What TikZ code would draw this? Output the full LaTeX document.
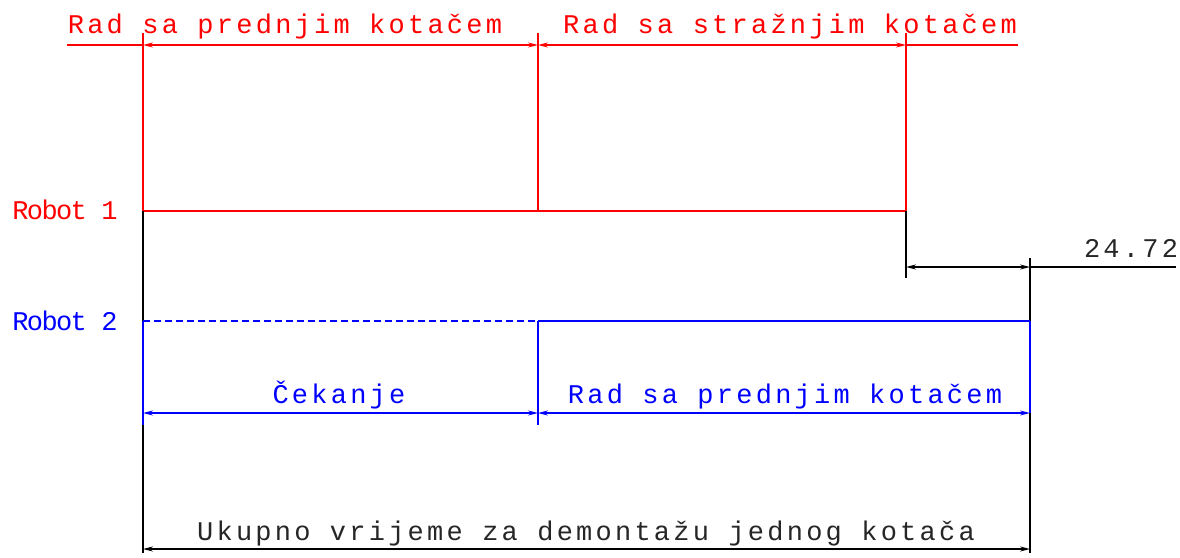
\documentclass[tikz,border=0pt]{standalone}
\usepackage{fontspec}
\usetikzlibrary{arrows.meta}
\newfontfamily\cadfont[LetterSpace=12]{Liberation Mono}
\newfontfamily\cadlabel[LetterSpace=-6]{Liberation Mono}
\definecolor{cadred}{RGB}{255,0,0}
\definecolor{cadblue}{RGB}{0,0,255}
\begin{document}
\begin{tikzpicture}[x=1pt,y=-1pt,
  ln/.style={line width=1.4pt},
  dimtip/.style={ln,{Stealth[length=10pt,width=5pt]}-{Stealth[length=10pt,width=5pt]}},
  lbl/.style={inner sep=0pt,anchor=base,font=\cadfont\fontsize{27}{27}\selectfont},
  rlbl/.style={inner sep=0pt,anchor=base,font=\cadlabel\fontsize{27}{27}\selectfont}]
\useasboundingbox (0,0) rectangle (1180,557);
% coordinates
\coordinate (tl) at (67,45);
\coordinate (t1) at (143,45);
\coordinate (t2) at (538,45);
\coordinate (t3) at (906,45);
\coordinate (tr) at (1018,45);
\coordinate (e1) at (143,33);
\coordinate (e2) at (538,33);
\coordinate (e3) at (906,33);
\coordinate (r1a) at (143,211);
\coordinate (r1b) at (538,211);
\coordinate (r1c) at (906,211);
\coordinate (k1) at (906,278);
\coordinate (d1) at (906,267);
\coordinate (d2) at (1030,267);
\coordinate (d3) at (1176,267);
\coordinate (k2) at (1030,258);
\coordinate (r2a) at (143,321);
\coordinate (r2b) at (538,321);
\coordinate (r2c) at (1030,321);
\coordinate (b1) at (143,413);
\coordinate (b2) at (538,413);
\coordinate (b3) at (1030,413);
\coordinate (v1) at (143,425);
\coordinate (v2) at (538,425);
\coordinate (u1) at (143,549);
\coordinate (u2) at (1030,549);
\coordinate (w1) at (143,553);
\coordinate (w2) at (1030,553);
% red part
\draw[ln,cadred] (tl) -- (t1);
\draw[dimtip,cadred] (t1) -- (t2);
\draw[dimtip,cadred] (t2) -- (t3);
\draw[ln,cadred] (t3) -- (tr);
\draw[ln,cadred] (e1) -- (r1a);
\draw[ln,cadred] (e2) -- (r1b);
\draw[ln,cadred] (e3) -- (r1c);
\draw[ln,cadred] (r1a) -- (r1c);
% black 24.72
\draw[ln,black] (r1c) -- (k1);
\draw[ln,black] (k2) -- (r2c);
\draw[dimtip,black] (d1) -- (d2);
\draw[ln,black] (d2) -- (d3);
\draw[ln,black] (r1a) -- (r2a);
% robot 2
\draw[ln,cadblue,dash pattern=on 7pt off 4pt] (r2a) -- (r2b);
\draw[ln,cadblue] (r2b) -- (r2c);
\draw[ln,cadblue] (r2a) -- (v1);
\draw[ln,cadblue] (r2b) -- (v2);
\draw[ln,cadblue] (r2c) -- (b3);
\draw[dimtip,cadblue] (b1) -- (b2);
\draw[dimtip,cadblue] (b2) -- (b3);
% total
\draw[ln,black] (v1) -- (w1);
\draw[ln,black] (b3) -- (w2);
\draw[dimtip,black] (u1) -- (u2);
% texts
\node[lbl,text=cadred] (tx1) at (285,33) {Rad sa prednjim kotačem};
\node[lbl,text=cadred] (tx2) at (790,33) {Rad sa stražnjim kotačem};
\node[rlbl,text=cadred] (rb1) at (65,219) {Robot 1};
\node[rlbl,text=cadblue] (rb2) at (65,330) {Robot 2};
\node[lbl,text=black!85] (dim) at (1131,257) {24.72};
\node[lbl,text=cadblue] (tx3) at (339,403) {Čekanje};
\node[lbl,text=cadblue] (tx4) at (785,403) {Rad sa prednjim kotačem};
\node[lbl,text=black!85] (tx5) at (586,540) {Ukupno vrijeme za demontažu jednog kotača};
\end{tikzpicture}
\end{document}
